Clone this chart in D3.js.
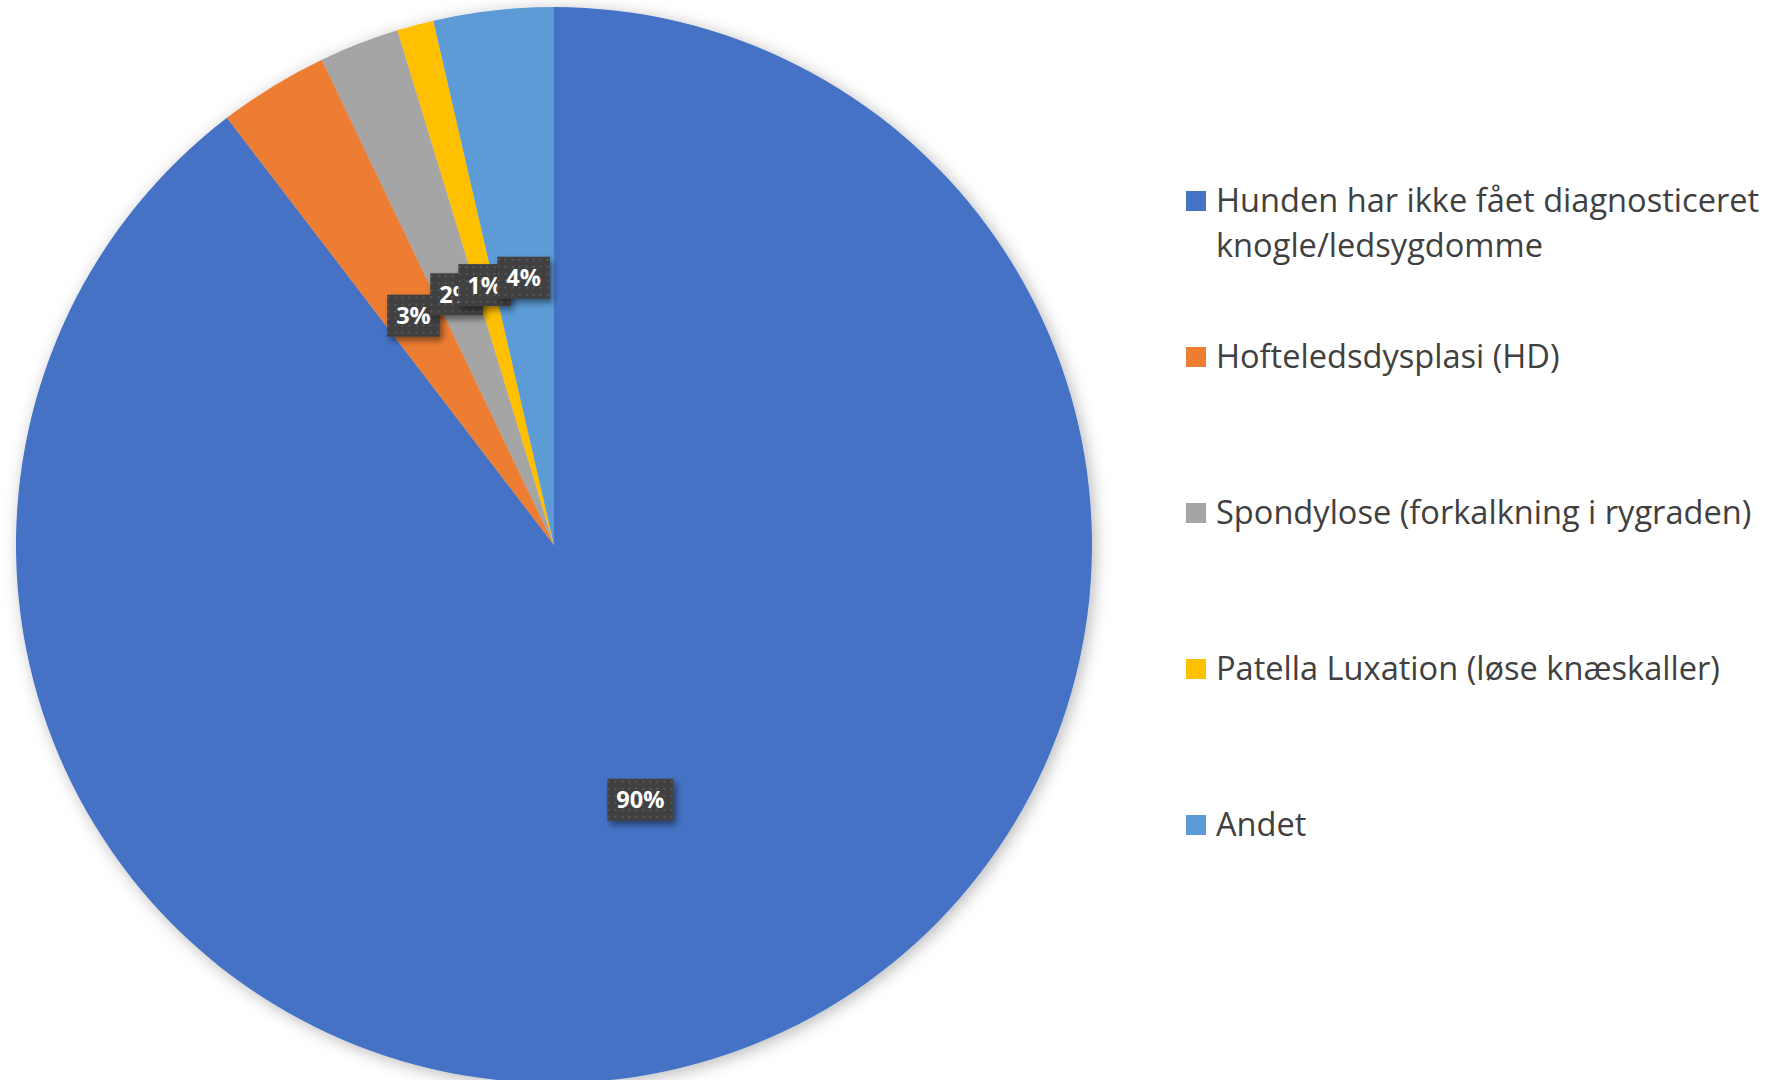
<!DOCTYPE html>
<html>
<head>
<meta charset="utf-8">
<script src="https://cdn.jsdelivr.net/npm/d3@7"></script>
<style>
  html, body { margin: 0; padding: 0; background: #fff; }
  svg { display: block; }
</style>
</head>
<body>
<script>
'use strict';

const categories = [
  'Hunden har ikke fået diagnosticeret knogle/ledsygdomme',
  'Hofteledsdysplasi (HD)',
  'Spondylose (forkalkning i rygraden)',
  'Patella Luxation (løse knæskaller)',
  'Andet'
];
const values = [89.6, 3.3, 2.4, 1.1, 3.6];
const percentLabels = ['90%', '3%', '2%', '1%', '4%'];
const colors = ['#4472C4', '#ED7D31', '#A5A5A5', '#FFC000', '#5B9BD5'];

const width = 1771;
const height = 1080;
const cx = 554, cy = 545, radius = 538;

const svg = d3.select('body').append('svg')
  .attr('width', width)
  .attr('height', height);

const defs = svg.append('defs');

const pieShadow = defs.append('filter')
  .attr('id', 'pieShadow')
  .attr('x', '-10%').attr('y', '-10%')
  .attr('width', '120%').attr('height', '120%');
pieShadow.append('feDropShadow')
  .attr('dx', 3).attr('dy', 3)
  .attr('stdDeviation', 8)
  .attr('flood-color', '#000')
  .attr('flood-opacity', 0.28);

const boxShadow = defs.append('filter')
  .attr('id', 'boxShadow')
  .attr('x', '-30%').attr('y', '-30%')
  .attr('width', '160%').attr('height', '170%');
boxShadow.append('feDropShadow')
  .attr('dx', 3).attr('dy', 4)
  .attr('stdDeviation', 3)
  .attr('flood-color', '#000')
  .attr('flood-opacity', 0.45);

const dots = defs.append('pattern')
  .attr('id', 'dots')
  .attr('patternUnits', 'userSpaceOnUse')
  .attr('width', 7).attr('height', 7);
dots.append('rect').attr('width', 7).attr('height', 7).attr('fill', '#404040');
dots.append('rect').attr('x', 2).attr('y', 2).attr('width', 2).attr('height', 2).attr('fill', '#585858');

const pie = d3.pie().sort(null).value((d) => d);
const arc = d3.arc().innerRadius(0).outerRadius(radius);
const arcs = pie(values);

const g = svg.append('g').attr('transform', `translate(${cx},${cy})`);

g.append('g')
  .attr('filter', 'url(#pieShadow)')
  .selectAll('path')
  .data(arcs)
  .enter().append('path')
  .attr('d', arc)
  .attr('fill', (d, i) => colors[i]);

// data labels at the slice centroids
const labels = g.selectAll('.lbl')
  .data(arcs)
  .enter().append('g')
  .attr('class', 'lbl')
  .attr('transform', (d) => `translate(${arc.centroid(d)})`);

labels.each(function (d, i) {
  const el = d3.select(this);
  const txt = el.append('text')
    .attr('text-anchor', 'middle')
    .attr('dy', '0.36em')
    .style('font-family', '"Open Sans", sans-serif')
    .style('font-weight', 700)
    .style('font-size', '23.5px')
    .attr('fill', '#fff')
    .text(percentLabels[i]);
  const w = txt.node().getComputedTextLength() + 18;
  const h = 42;
  el.insert('rect', 'text')
    .attr('x', -w / 2).attr('y', -h / 2)
    .attr('width', w).attr('height', h)
    .attr('fill', 'url(#dots)')
    .attr('filter', 'url(#boxShadow)');
});

// legend
const legendX = 1186;
const legendY = d3.scaleLinear().domain([0, 1]).range([201, 357]);
const legendFont = 32.6;
const lineGap = 45;

const legend = svg.append('g')
  .style('font-family', '"Open Sans", sans-serif')
  .style('font-size', legendFont + 'px')
  .attr('fill', '#404040');

categories.forEach((name, i) => {
  const y = legendY(i);
  legend.append('rect')
    .attr('x', legendX).attr('y', y - 10)
    .attr('width', 20).attr('height', 20)
    .attr('fill', colors[i]);
  const text = legend.append('text')
    .attr('x', legendX + 30)
    .attr('y', y)
    .attr('dy', '0.35em');
  // wrap long names
  const words = name.split(' ');
  let line = [];
  let tspan = text.append('tspan').attr('x', legendX + 30);
  words.forEach((w) => {
    line.push(w);
    tspan.text(line.join(' '));
    if (tspan.node().getComputedTextLength() > 570 && line.length > 1) {
      line.pop();
      tspan.text(line.join(' '));
      line = [w];
      tspan = text.append('tspan')
        .attr('x', legendX + 30)
        .attr('dy', lineGap)
        .text(w);
    }
  });
});
</script>
</body>
</html>
